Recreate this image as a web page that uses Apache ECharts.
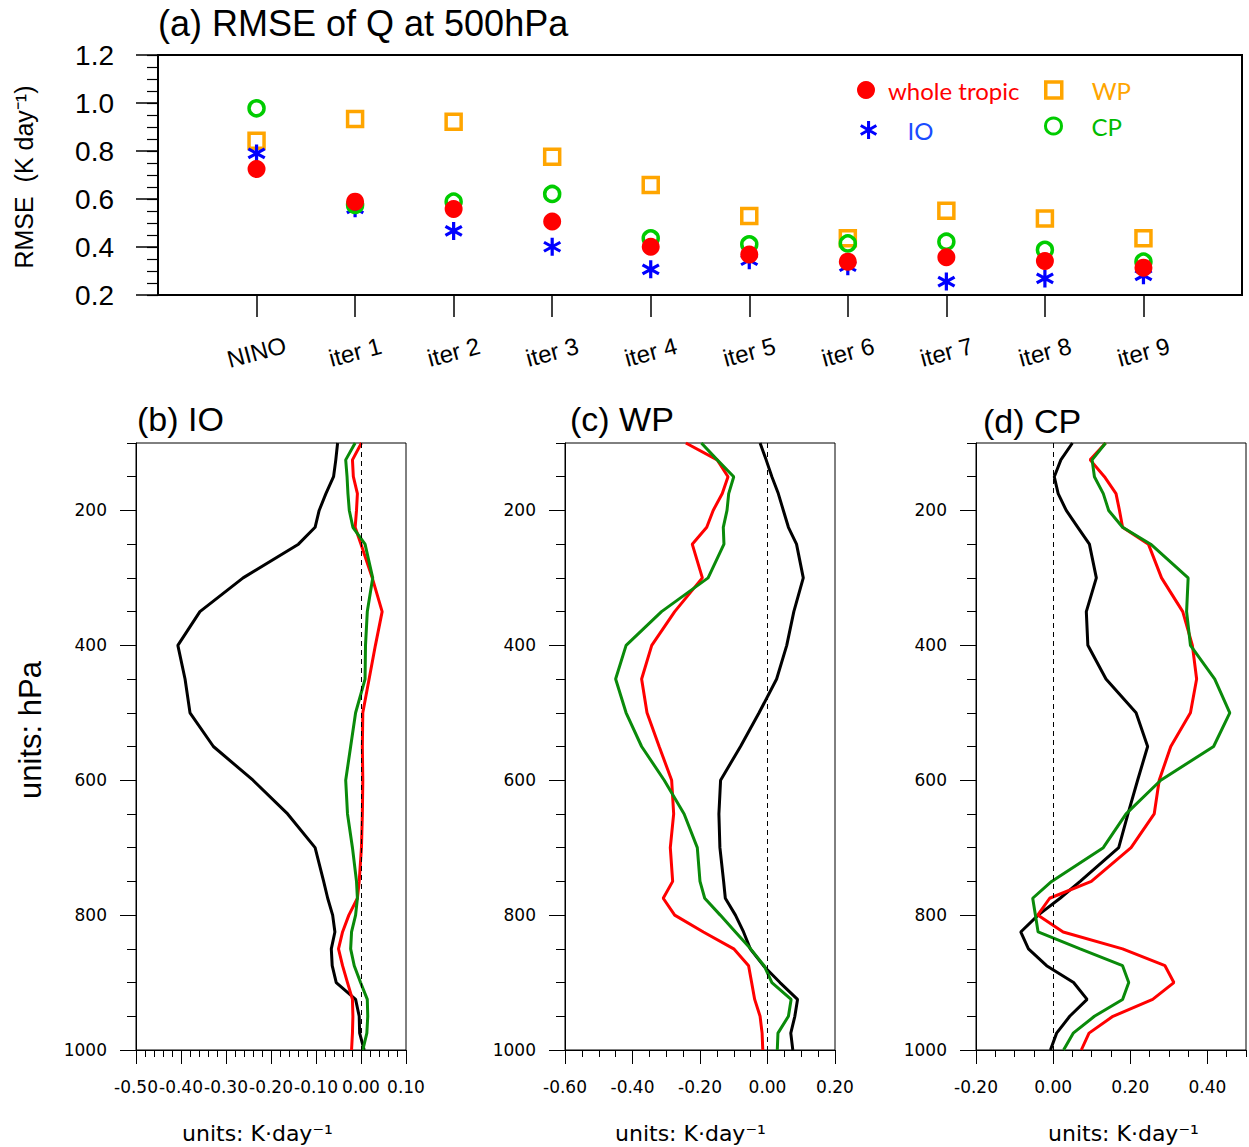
<!DOCTYPE html>
<html><head><meta charset="utf-8">
<script src="https://cdn.jsdelivr.net/npm/echarts@6/dist/echarts.min.js"></script>
<style>html,body{margin:0;padding:0;background:#fff}#c{width:1249px;height:1147px}</style>
</head><body><div id="c"></div>
<script>
// ---------- DATA ----------
const categories = ['NINO','iter 1','iter 2','iter 3','iter 4','iter 5','iter 6','iter 7','iter 8','iter 9'];
const rmseWhole = [0.725,0.589,0.558,0.506,0.401,0.369,0.339,0.357,0.342,0.314];
const rmseIO    = [0.790,0.561,0.467,0.401,0.307,0.345,0.320,0.256,0.269,0.282];
const rmseWP    = [0.843,0.933,0.922,0.776,0.658,0.529,0.436,0.551,0.519,0.436];
const rmseCP    = [0.978,0.575,0.589,0.621,0.436,0.411,0.415,0.422,0.388,0.339];

const levels = [100,125,150,175,200,225,250,300,350,400,450,500,550,600,650,700,750,775,800,825,850,875,900,925,950,975,1000];
const ioBlack = [-0.052,-0.056,-0.061,-0.078,-0.093,-0.102,-0.139,-0.262,-0.358,-0.407,-0.391,-0.380,-0.328,-0.240,-0.163,-0.102,-0.083,-0.074,-0.063,-0.058,-0.066,-0.064,-0.055,-0.012,-0.004,-0.003,0.007];
const ioRed   = [0.001,-0.019,-0.017,-0.008,-0.010,-0.013,0.000,0.025,0.047,0.032,0.018,0.004,0.003,0.004,0.003,0.001,-0.004,-0.008,-0.027,-0.041,-0.050,-0.041,-0.030,-0.019,-0.018,-0.019,-0.021];
const ioGreen = [-0.013,-0.034,-0.031,-0.029,-0.026,-0.018,0.009,0.026,0.014,0.010,0.009,-0.012,-0.023,-0.034,-0.030,-0.019,-0.010,-0.008,-0.012,-0.021,-0.023,-0.015,-0.001,0.014,0.015,0.013,0.004];
const wpBlack = [-0.022,-0.004,0.013,0.032,0.047,0.062,0.086,0.106,0.078,0.057,0.027,-0.025,-0.080,-0.139,-0.144,-0.141,-0.130,-0.125,-0.095,-0.071,-0.051,-0.012,0.037,0.089,0.081,0.069,0.075];
const wpRed   = [-0.242,-0.149,-0.117,-0.134,-0.161,-0.180,-0.223,-0.193,-0.275,-0.343,-0.373,-0.357,-0.321,-0.284,-0.278,-0.288,-0.281,-0.309,-0.275,-0.190,-0.100,-0.056,-0.047,-0.038,-0.022,-0.016,-0.014];
const wpGreen = [-0.196,-0.149,-0.100,-0.115,-0.120,-0.131,-0.129,-0.176,-0.314,-0.419,-0.450,-0.419,-0.373,-0.306,-0.247,-0.208,-0.200,-0.186,-0.140,-0.095,-0.050,-0.010,0.013,0.070,0.062,0.031,0.029];
const cpBlack = [0.050,0.020,0.003,0.013,0.034,0.064,0.094,0.112,0.086,0.090,0.137,0.215,0.245,0.219,0.194,0.170,0.070,0.018,-0.039,-0.084,-0.064,-0.017,0.053,0.088,0.043,0.009,-0.007];
const cpRed   = [0.136,0.096,0.133,0.163,0.172,0.180,0.247,0.281,0.336,0.361,0.372,0.356,0.305,0.275,0.262,0.202,0.099,-0.009,-0.040,0.026,0.180,0.290,0.313,0.258,0.155,0.093,0.073];
const cpGreen = [0.136,0.101,0.107,0.130,0.144,0.180,0.253,0.350,0.346,0.356,0.419,0.458,0.416,0.279,0.189,0.130,-0.004,-0.053,-0.046,-0.039,0.070,0.180,0.196,0.180,0.107,0.052,0.027];

// tick label values
const pLabels = [200,400,600,800,1000];
const rmseLabels = [0.2,0.4,0.6,0.8,1.0,1.2];
const ioTickLabels = [-0.5,-0.4,-0.3,-0.2,-0.1,0,0.1];
const wpTickLabels = [-0.6,-0.4,-0.2,0,0.2];
const cpTickLabels = [-0.2,0,0.2,0.4];

// ---------- STYLE / HELPERS ----------
const FL = "'Liberation Sans', Arial, sans-serif";
const FD = "'DejaVu Sans', sans-serif";
const RED = '#ff0000', GREEN = '#0a8a0a', BLACK = '#000000';
function steps(a, b, s) { const r = []; for (let k = 0; a + k * s <= b + 1e-9; k++) r.push(+(a + k * s).toFixed(4)); return r; }
function asteriskPath() {
  const L = 1, w = 0.17; let d = '';
  [90, 30, 150].forEach(deg => {
    const t = deg * Math.PI / 180, c = Math.cos(t), s = Math.sin(t);
    const px = -s * w, py = c * w;
    const pts = [[L*c+px, L*s+py], [-L*c+px, -L*s+py], [-L*c-px, -L*s-py], [L*c-px, L*s-py]];
    d += 'M' + pts.map(p => p[0].toFixed(3) + ' ' + p[1].toFixed(3)).join(' L') + ' Z ';
  });
  return 'path://' + d;
}
const AST = asteriskPath();
const SQUARE = 'path://M0 0 L1 0 L1 1 L0 1 Z';

const panels = [
  { left: 136, min: -0.5, max: 0.1, minor: 0.02, labels: ioTickLabels, black: ioBlack, red: ioRed, green: ioGreen },
  { left: 565, min: -0.6, max: 0.2, minor: 0.05, labels: wpTickLabels, black: wpBlack, red: wpRed, green: wpGreen },
  { left: 976, min: -0.2, max: 0.5, minor: 0.05, labels: cpTickLabels, black: cpBlack, red: cpRed, green: cpGreen }
];

const grid = [{ left: 158, top: 55, width: 1084, height: 240, show: true, borderColor: '#000', borderWidth: 2, backgroundColor: 'transparent' }];
panels.forEach(p => grid.push({ left: p.left, top: 443, width: 270, height: 607, show: true, borderColor: '#000', borderWidth: 1, backgroundColor: 'transparent' }));

const xAxis = [], yAxis = [];
xAxis.push({
  gridIndex: 0, type: 'value', position: 'bottom', min: -1, max: 10,
  axisLine: { show: true, onZero: false, lineStyle: { color: '#000', width: 2 } },
  axisTick: { show: true, customValues: categories.map((c, i) => i), length: 22, lineStyle: { color: '#000', width: 1.5 } },
  axisLabel: { show: true, customValues: categories.map((c, i) => i), formatter: v => categories[Math.round(v)] || '',
    rotate: 15, align: 'center', verticalAlign: 'middle', margin: 57, fontSize: 24, fontFamily: FL, color: '#000' },
  splitLine: { show: false }
});
yAxis.push({
  gridIndex: 0, type: 'value', position: 'left', min: 0.2, max: 1.2,
  axisLine: { show: true, onZero: false, lineStyle: { color: '#000', width: 2 } },
  axisTick: { show: true, customValues: steps(0.2, 1.2, 0.05), length: 11, lineStyle: { color: '#000', width: 1.2 } },
  axisLabel: { show: true, customValues: rmseLabels, formatter: v => (+v).toFixed(1), margin: 44, fontSize: 28, fontFamily: FL, color: '#000',
    showMinLabel: true, showMaxLabel: true },
  splitLine: { show: false }
});
yAxis.push({
  gridIndex: 0, type: 'value', position: 'left', min: 0.2, max: 1.2,
  axisLine: { show: false, onZero: false }, axisLabel: { show: false }, splitLine: { show: false },
  axisTick: { show: true, customValues: rmseLabels, length: 22, lineStyle: { color: '#000', width: 1.5 } }
});

panels.forEach((p, k) => {
  const g = k + 1;
  p.xMain = xAxis.length;
  xAxis.push({
    gridIndex: g, type: 'value', position: 'bottom', min: p.min, max: p.max,
    axisLine: { show: true, onZero: false, lineStyle: { color: '#000', width: 1 } },
    axisTick: { show: true, customValues: steps(p.min, p.max, p.minor), length: 7, lineStyle: { color: '#000', width: 1 } },
    axisLabel: { show: true, customValues: p.labels, formatter: v => (+v).toFixed(2), margin: 28, fontSize: 17, fontFamily: FD, color: '#000',
      showMinLabel: true, showMaxLabel: true },
    splitLine: { show: false }
  });
  xAxis.push({
    gridIndex: g, type: 'value', position: 'bottom', min: p.min, max: p.max,
    axisLine: { show: false, onZero: false }, axisLabel: { show: false }, splitLine: { show: false },
    axisTick: { show: true, customValues: p.labels, length: 14, lineStyle: { color: '#000', width: 1 } }
  });
  p.yMain = yAxis.length;
  yAxis.push({
    gridIndex: g, type: 'value', position: 'left', min: 100, max: 1000, inverse: true,
    axisLine: { show: true, onZero: false, lineStyle: { color: '#000', width: 1 } },
    axisTick: { show: true, customValues: steps(100, 1000, 50), length: 9, lineStyle: { color: '#000', width: 1 } },
    axisLabel: { show: true, customValues: pLabels, formatter: v => String(Math.round(v)), margin: 29, fontSize: 17, fontFamily: FD, color: '#000',
      showMinLabel: true, showMaxLabel: true },
    splitLine: { show: false }
  });
  yAxis.push({
    gridIndex: g, type: 'value', position: 'left', min: 100, max: 1000, inverse: true,
    axisLine: { show: false, onZero: false }, axisLabel: { show: false }, splitLine: { show: false },
    axisTick: { show: true, customValues: pLabels, length: 16, lineStyle: { color: '#000', width: 1 } }
  });
});

const series = [];
const pts = arr => categories.map((c, i) => [i, arr[i]]);
series.push({ name: 'WP', type: 'scatter', xAxisIndex: 0, yAxisIndex: 0, data: pts(rmseWP), symbol: 'rect', symbolSize: 15,
  itemStyle: { color: 'rgba(0,0,0,0)', borderColor: '#ffa500', borderWidth: 3.5, opacity: 1 } });
series.push({ name: 'IO', type: 'scatter', xAxisIndex: 0, yAxisIndex: 0, data: pts(rmseIO), symbol: AST, symbolSize: 18,
  itemStyle: { color: '#0000ff', opacity: 1 } });
series.push({ name: 'CP', type: 'scatter', xAxisIndex: 0, yAxisIndex: 0, data: pts(rmseCP), symbol: 'circle', symbolSize: 15,
  itemStyle: { color: 'rgba(0,0,0,0)', borderColor: '#00cc00', borderWidth: 3.5, opacity: 1 } });
series.push({ name: 'whole tropic', type: 'scatter', xAxisIndex: 0, yAxisIndex: 0, data: pts(rmseWhole), symbol: 'circle', symbolSize: 18,
  itemStyle: { color: '#ff0000', opacity: 1 } });

panels.forEach((p, k) => {
  const mk = (name, vals, color, withZero) => {
    const s = { name: name, type: 'line', xAxisIndex: p.xMain, yAxisIndex: p.yMain,
      data: levels.map((lv, i) => [vals[i], lv]), symbol: 'none', showSymbol: false,
      lineStyle: { color: color, width: 3 }, itemStyle: { color: color } };
    if (withZero) s.markLine = { silent: true, symbol: ['none', 'none'], label: { show: false },
      lineStyle: { color: '#000', width: 1, type: [5, 4] }, data: [{ xAxis: 0 }] };
    return s;
  };
  series.push(mk('p' + k + ' black', p.black, BLACK, true));
  series.push(mk('p' + k + ' red', p.red, RED, false));
  series.push(mk('p' + k + ' green', p.green, GREEN, false));
});

const legFont = { fontSize: 24, fontFamily: "Lato, 'Liberation Sans', sans-serif" };
// icon is drawn h x h at 'left'; text starts at left + (w + h)/2 + 5
function leg(name, icon, cx, cy, textX, h, color, itemStyle) {
  const left = cx - h / 2;
  const w = 2 * (textX - 5 - left) - h;
  return { show: true, selectedMode: false, orient: 'horizontal', left: left, top: cy - h / 2, padding: 0,
    itemWidth: w, itemHeight: h,
    data: [{ name: name, icon: icon, itemStyle: itemStyle, textStyle: Object.assign({ color: color }, legFont) }] };
}
const legend = [
  leg('whole tropic', 'circle', 866, 87, 888, 18, '#ff0000', { color: '#ff0000' }),
  leg('WP', SQUARE, 1052, 86, 1090, 16, '#ffa500', { color: 'rgba(0,0,0,0)', borderColor: '#ffa500', borderWidth: 3.5 }),
  leg('IO', AST, 869, 127, 908, 18, '#1a4cff', { color: '#0000ff' }),
  leg('CP', 'circle', 1052, 122, 1090, 16, '#00bb00', { color: 'rgba(0,0,0,0)', borderColor: '#00cc00', borderWidth: 3 })
];

const txt = (text, x, y, size, family, opts) => Object.assign({ type: 'text', x: x, y: y, silent: true,
  style: { text: text, fontSize: size, fontFamily: family, fill: '#000', align: 'left', verticalAlign: 'middle' } }, opts || {});
const graphic = [
  txt('(a) RMSE of Q at 500hPa', 158, 23, 36, FL),
  txt('(b) IO', 137, 419, 34, FL),
  txt('(c) WP', 570, 419, 34, FL),
  txt('(d) CP', 983, 421, 34, FL),
  { type: 'text', x: 24, y: 177, rotation: Math.PI / 2, silent: true,
    style: { text: 'RMSE  (K day⁻¹)', fontSize: 25, fontFamily: FL, fill: '#000', align: 'center', verticalAlign: 'middle' } },
  { type: 'text', x: 30, y: 730, rotation: Math.PI / 2, silent: true,
    style: { text: 'units: hPa', fontSize: 31, fontFamily: FL, fill: '#000', align: 'center', verticalAlign: 'middle' } },
  txt('units: K·day⁻¹', 182, 1133, 22, FD),
  txt('units: K·day⁻¹', 615, 1133, 22, FD),
  txt('units: K·day⁻¹', 1048, 1133, 22, FD)
];

const chart = echarts.init(document.getElementById('c'), null, { renderer: 'svg', width: 1249, height: 1147 });
chart.setOption({ animation: false, backgroundColor: '#fff', grid: grid, xAxis: xAxis, yAxis: yAxis, series: series, legend: legend, graphic: graphic });
</script>
</body></html>
